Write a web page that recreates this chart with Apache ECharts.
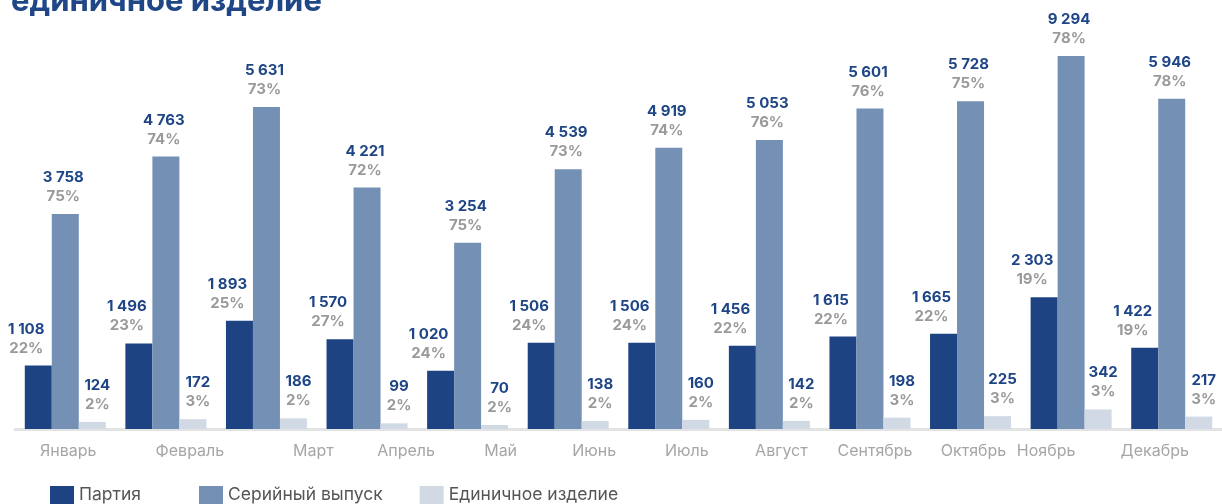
<!DOCTYPE html>
<html>
<head>
<meta charset="utf-8">
<script src="https://cdn.jsdelivr.net/npm/echarts@6/dist/echarts.min.js"></script>
<style>
  html, body { margin: 0; padding: 0; background: #fff; }
  #chart { width: 1222px; height: 504px; }
</style>
</head>
<body>
<div id="chart"></div>
<script>
// данные по месяцам
const months = ['Январь', 'Февраль', 'Март', 'Апрель', 'Май', 'Июнь', 'Июль', 'Август', 'Сентябрь', 'Октябрь', 'Ноябрь', 'Декабрь']
const partia = [1108, 1496, 1893, 1570, 1020, 1506, 1506, 1456, 1615, 1665, 2303, 1422]
const partiaPct = [22, 23, 25, 27, 24, 24, 24, 22, 22, 22, 19, 19]
const serial = [3758, 4763, 5631, 4221, 3254, 4539, 4919, 5053, 5601, 5728, 9294, 5946]
const serialPct = [75, 74, 73, 72, 75, 73, 74, 76, 76, 75, 78, 78]
const single = [124, 172, 186, 99, 70, 138, 160, 142, 198, 225, 342, 217]
const singlePct = [2, 3, 2, 2, 2, 2, 2, 2, 3, 3, 3, 3]

// сдвиг подписей месяцев (как в макете), px
const labelShift = [3, 24, 47, 39, 33, 26, 18, 12, 5, 3, -25, -17]

const FONT = 'Inter, "Noto Sans", sans-serif'
const fmt = v => String(v).replace(/\B(?=(\d{3})+(?!\d))/g, ' ')

function makeLabel(pct, offsetX) {
  return {
    show: true,
    position: 'top',
    distance: 8,
    offset: [offsetX, 0],
    align: 'center',
    formatter: p => '{v|' + fmt(p.value) + '}\n{p|' + pct[p.dataIndex] + '%}',
    rich: {
      v: { fontFamily: FONT, fontSize: 15, fontWeight: 'bold', color: '#1e4585', lineHeight: 19, align: 'center' },
      p: { fontFamily: FONT, fontSize: 15, fontWeight: 'bold', color: '#9a9a9a', lineHeight: 19, align: 'center' }
    }
  }
}

// стили подписей оси X с индивидуальным сдвигом
const monthRich = {}
labelShift.forEach((s, i) => {
  monthRich['m' + i] = {
    fontFamily: FONT,
    fontSize: 16,
    color: '#a6a6a6',
    padding: s >= 0 ? [0, 0, 0, 2 * s] : [0, -2 * s, 0, 0]
  }
})

const legendBase = {
  top: 481,
  itemWidth: 24,
  itemHeight: 18,
  itemGap: 37,
  icon: 'rect',
  textStyle: { fontFamily: FONT, fontSize: 17.5, color: '#555' }
}

const chart = echarts.init(document.getElementById('chart'))
chart.setOption({
  animation: false,
  title: {
    text: 'единичное изделие',
    left: 6,
    top: -19,
    textStyle: { fontFamily: FONT, fontSize: 31, fontWeight: 'bold', color: '#1f4687' }
  },
  legend: [
    Object.assign({ left: 45, data: ['Партия'] }, legendBase),
    Object.assign({ left: 194, data: ['Серийный выпуск', 'Единичное изделие'] }, legendBase)
  ],
  grid: { top: 56, bottom: 75, left: 15, right: -6 },
  xAxis: {
    type: 'category',
    data: months,
    axisLine: { lineStyle: { color: '#e3e3e3', width: 3 } },
    axisTick: { show: false },
    axisLabel: {
      interval: 0,
      hideOverlap: false,
      margin: 14,
      formatter: (v, i) => '{m' + i + '|' + v + '}',
      rich: monthRich
    }
  },
  yAxis: {
    type: 'value',
    min: 0,
    max: 9294,
    show: false,
    splitLine: { show: false },
    // разрыв оси, чтобы ноябрь поместился
    breaks: [{ start: 5730, end: 9200, gap: 697 }],
    breakArea: { show: false, itemStyle: { opacity: 0 } }
  },
  series: [
    {
      name: 'Партия',
      type: 'bar',
      data: partia,
      barWidth: 27,
      barGap: '0%',
      itemStyle: { color: '#1d4382' },
      label: makeLabel(partiaPct, -12)
    },
    {
      name: 'Серийный выпуск',
      type: 'bar',
      data: serial,
      barWidth: 27,
      barGap: '0%',
      itemStyle: { color: '#7590b5' },
      label: makeLabel(serialPct, -2)
    },
    {
      name: 'Единичное изделие',
      type: 'bar',
      data: single,
      barWidth: 27,
      barGap: '0%',
      itemStyle: { color: '#d0d9e4' },
      label: makeLabel(singlePct, 5)
    }
  ]
})
</script>
</body>
</html>
